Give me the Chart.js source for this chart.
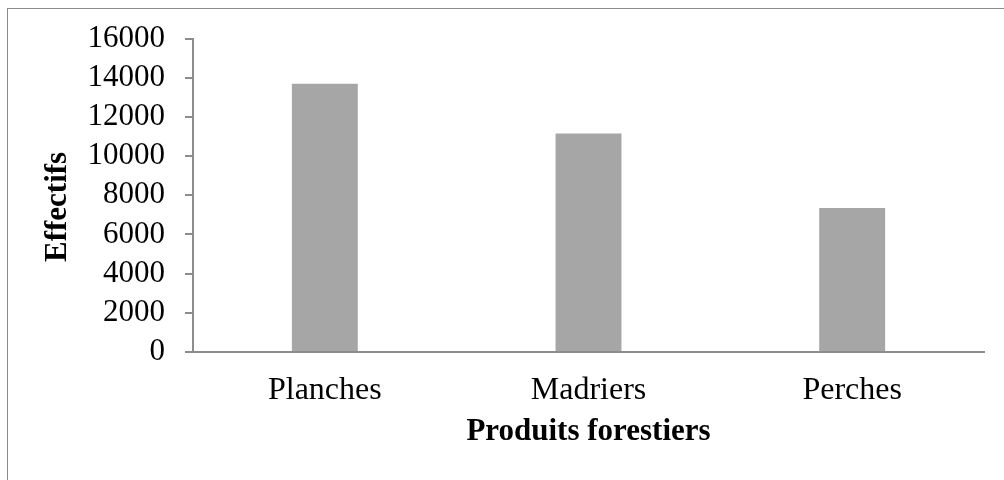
<!DOCTYPE html>
<html lang="fr">
  <head>
    <meta charset="utf-8" />
    <title>Produits forestiers</title>
    <script src="https://cdn.jsdelivr.net/npm/chart.js@4.4.0/dist/chart.umd.min.js"></script>
    <style>
      html, body { margin: 0; padding: 0; background: #fff; overflow: hidden; }
      .frame {
        position: absolute; left: 7px; top: 8px; width: 1010px; height: 490px;
        border: 1px solid #8a8a8a;
      }
      #chart { position: absolute; left: 0; top: 0; }
    </style>
  </head>
  <body>
    <div class="frame"></div>
    <canvas id="chart" width="1004" height="480"></canvas>

    <script>
      // data
      const categories = ["Planches", "Madriers", "Perches"];
      const effectifs = [13700, 11150, 7350];
      const yMin = 0;
      const yMax = 16000;
      const yStep = 2000;

      const FONT = "'Liberation Serif', 'Times New Roman', serif";
      const AXIS_GREY = "#8c8c8c";

      new Chart(document.getElementById("chart"), {
        type: "bar",
        data: {
          labels: categories,
          datasets: [{
            label: "Effectifs",
            data: effectifs,
            backgroundColor: "#a6a6a6",
            borderWidth: 0,
            barPercentage: 0.25,
            categoryPercentage: 1
          }]
        },
        options: {
          responsive: false,
          animation: false,
          layout: { padding: { top: 20, right: 20, left: 0, bottom: 0 } },
          plugins: { legend: { display: false }, tooltip: { enabled: false } },
          scales: {
            x: {
              grid: { display: false, drawTicks: false },
              border: { display: true, color: AXIS_GREY, width: 2 },
              ticks: { color: "#000", padding: 19, font: { family: FONT, size: 32 } },
              title: {
                display: true, text: "Produits forestiers", color: "#000",
                padding: { top: 0, bottom: 29 },
                font: { family: FONT, size: 31, weight: "bold" }
              },
              afterFit: (s) => { s.height = 128; }
            },
            y: {
              min: yMin, max: yMax,
              grid: { drawOnChartArea: false, drawTicks: true, tickLength: 8, color: AXIS_GREY, lineWidth: 2 },
              border: { display: true, color: AXIS_GREY, width: 2 },
              ticks: {
                stepSize: yStep, autoSkip: false, color: "#000", padding: 20,
                font: { family: FONT, size: 31 },
                callback: (v) => String(v)
              },
              title: {
                display: true,
                // trailing spaces push the rotated title a little lower, like the original
                text: "Effectifs\u00a0\u00a0\u00a0", color: "#000",
                padding: { top: 39, bottom: 0 },
                font: { family: FONT, size: 31, weight: "bold" }
              },
              afterFit: (s) => { s.width = 193; }
            }
          }
        }
      });
    </script>
  </body>
</html>
